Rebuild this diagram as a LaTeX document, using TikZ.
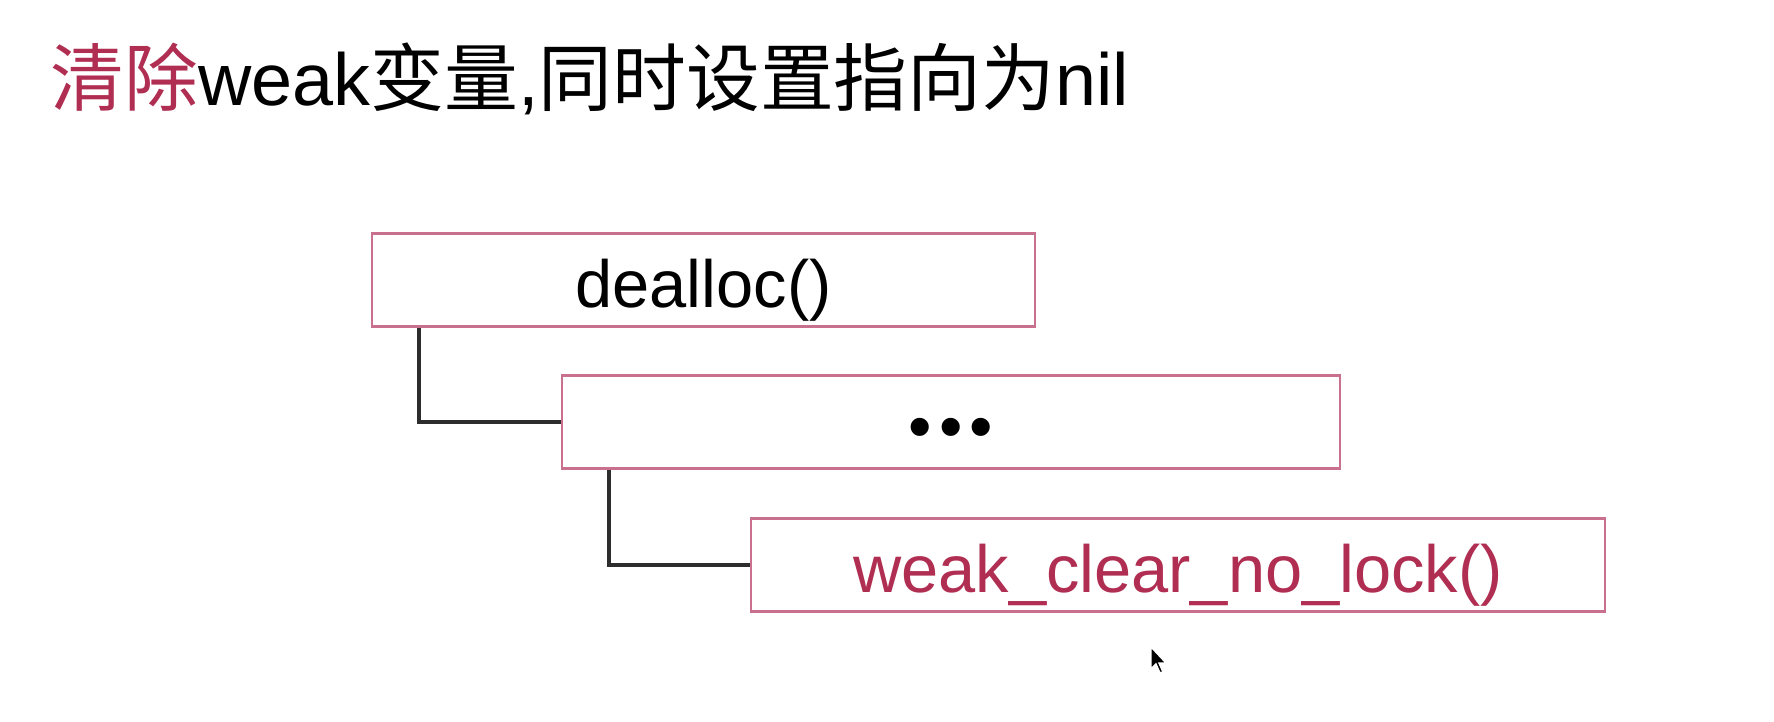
\documentclass[tikz,border=0pt]{standalone}
\usepackage{fontspec}
\setmainfont{Liberation Sans}
\newfontfamily\cjk{Noto Sans CJK SC}
\usepackage{xcolor}
\usepackage{tikz}
\usetikzlibrary{positioning}

\definecolor{titlered}{RGB}{176,46,82}
\definecolor{boxpink}{RGB}{200,112,142}
\definecolor{linegray}{RGB}{45,45,45}

\tikzset{
  funcbox/.style={draw=boxpink, line width=0.6pt, minimum height=0.93cm, inner sep=0pt,
    text height=0.56cm, text depth=0cm, font=\fontsize{19}{22}\selectfont},
  callline/.style={draw=linegray, line width=1.1pt}
}

\begin{document}
\begin{tikzpicture}
        \useasboundingbox (0,0) rectangle (17.74,7.22);

        % Titolo
        \node[anchor=west, inner sep=0pt, font=\fontsize{21}{25}\selectfont] (title) at (0.50, 6.43)
            {{\cjk\color{titlered}清除}weak{\cjk 变量},{\cjk 同时设置指向为}nil};

        % Riquadri
        \node[funcbox, minimum width=6.63cm] (dealloc) at (7.035, 4.42) {dealloc()};
        \node[funcbox, minimum width=7.78cm] (dots) at (9.51, 3.00) {•\kern2pt•\kern2pt•};
        \node[funcbox, minimum width=8.54cm, text=titlered] (clear) at (11.78, 1.57) {weak\_clear\_no\_lock()};

        % Collegamenti
        \draw[callline] ([xshift=4.8mm]dealloc.south west) |- (dots.west);
        \draw[callline] ([xshift=4.8mm]dots.south west) |- (clear.west);

        % Puntatore
        \fill[black, draw=white, line width=0.4pt, shift={(11.51,0.75)}, scale=0.01]
            (0,0) -- (0,-22) -- (5,-17) -- (9,-26) -- (12,-25) -- (8,-16) -- (15,-16) -- cycle;
    \end{tikzpicture}
\end{document}
